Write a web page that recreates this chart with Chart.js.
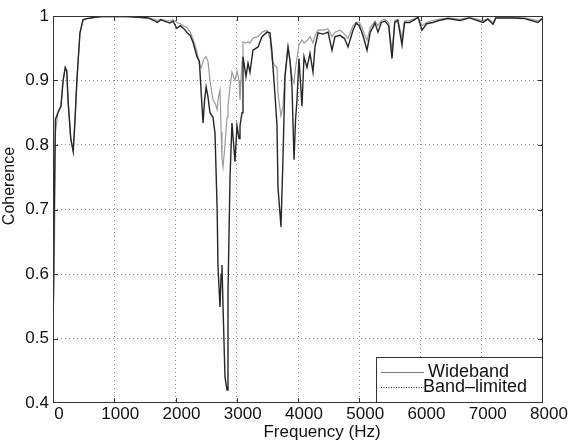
<!DOCTYPE html>
<html>
<head>
<meta charset="utf-8">
<script src="https://cdn.jsdelivr.net/npm/chart.js@4/dist/chart.umd.min.js"></script>
<style>
html,body{margin:0;padding:0;background:#fff;}
canvas{display:block;}
</style>
</head>
<body>
<canvas id="c" width="571" height="442"></canvas>
<script>
// ---- data ----
const freq = [0,20,40,80,130,165,200,225,245,290,330,360,390,440,490,550,690,800,1000,1200,1400,1550,1650,1700,1760,1850,1910,1960,2020,2080,2140,2190,2240,2290,2350,2390,2420,2450,2475,2500,2530,2563,2612,2645,2680,2694,2727,2745,2759,2776,2808,2841,2857,2890,2922,2950,2971,3004,3037,3053,3086,3102,3151,3184,3216,3265,3347,3412,3494,3543,3575,3592,3630,3657,3673,3722,3755,3788,3837,3870,3902,3935,3960,3984,4016,4065,4098,4147,4196,4245,4278,4327,4408,4490,4555,4604,4686,4760,4816,4898,4950,5000,5045,5090,5127,5180,5257,5306,5360,5420,5480,5535,5580,5630,5698,5740,5820,5900,5960,6024,6100,6200,6300,6450,6645,6800,7020,7100,7184,7230,7500,7700,7920,8000];
const wideband = [0.50,0.70,0.84,0.85,0.86,0.90,0.92,0.915,0.87,0.81,0.79,0.84,0.90,0.974,0.994,0.996,0.998,0.999,0.999,0.999,0.998,0.997,0.993,0.99,0.994,0.991,0.989,0.992,0.981,0.985,0.98,0.974,0.97,0.958,0.937,0.93,0.88,0.834,0.87,0.89,0.875,0.85,0.843,0.818,0.70,0.61,0.549,0.60,0.614,0.55,0.44,0.42,0.57,0.75,0.834,0.80,0.774,0.83,0.81,0.83,0.85,0.937,0.906,0.927,0.913,0.947,0.952,0.968,0.975,0.974,0.945,0.92,0.87,0.83,0.735,0.673,0.78,0.906,0.952,0.93,0.89,0.777,0.84,0.87,0.934,0.86,0.937,0.92,0.942,0.913,0.952,0.974,0.972,0.975,0.947,0.968,0.97,0.965,0.952,0.978,0.989,0.985,0.974,0.96,0.947,0.975,0.989,0.975,0.99,0.992,0.985,0.934,0.99,0.993,0.955,0.99,0.99,0.994,0.998,0.978,0.988,0.99,0.993,0.996,0.993,0.997,0.99,0.995,0.987,0.997,0.997,0.996,0.99,0.997];
const bandLimited = [0.52,0.60,0.82,0.85,0.86,0.90,0.92,0.915,0.87,0.81,0.79,0.84,0.90,0.974,0.994,0.996,0.998,0.999,0.999,0.999,0.998,0.997,0.995,0.993,0.995,0.993,0.992,0.994,0.99,0.988,0.984,0.982,0.975,0.963,0.945,0.925,0.92,0.93,0.935,0.937,0.93,0.90,0.87,0.865,0.855,0.87,0.885,0.82,0.78,0.766,0.80,0.843,0.86,0.89,0.913,0.905,0.90,0.915,0.90,0.87,0.93,0.96,0.958,0.96,0.958,0.966,0.968,0.975,0.978,0.965,0.932,0.928,0.922,0.92,0.88,0.845,0.86,0.91,0.952,0.93,0.905,0.896,0.92,0.935,0.955,0.963,0.958,0.962,0.968,0.958,0.97,0.978,0.978,0.98,0.968,0.975,0.978,0.972,0.965,0.985,0.99,0.99,0.982,0.97,0.962,0.982,0.992,0.985,0.993,0.995,0.99,0.945,0.993,0.995,0.965,0.992,0.993,0.996,0.998,0.985,0.99,0.993,0.995,0.997,0.995,0.998,0.993,0.996,0.99,0.998,0.998,0.997,0.993,0.997];
const xTickLabels = ["0","1000","2000","3000","4000","5000","6000","7000","8000"];
const yTickLabels = ["0.4","0.5","0.6","0.7","0.8","0.9","1"];
const seriesNames = ["Wideband","Band\u2013limited"];

const FONT = "'Liberation Sans', Arial, Helvetica, sans-serif";

const toPts = ys => freq.map((f,i)=>({x:f,y:ys[i]}));

const framePlugin = {
  id:'frame',
  afterDraw(chart){
    const {ctx, chartArea:a, scales} = chart;
    ctx.save();
    ctx.strokeStyle = '#333';
    ctx.lineWidth = 1;
    ctx.strokeRect(a.left+0.5, a.top+0.5, a.right-a.left-1, a.bottom-a.top-1);
    // inward ticks
    const tl = 5;
    ctx.beginPath();
    for(let v=1000; v<8000; v+=1000){
      const px = Math.round(scales.x.getPixelForValue(v))+0.5;
      ctx.moveTo(px,a.bottom); ctx.lineTo(px,a.bottom-tl);
      ctx.moveTo(px,a.top); ctx.lineTo(px,a.top+tl);
    }
    for(let i=1;i<yTickLabels.length-1;i++){
      const py = Math.round(scales.y.getPixelForValue(parseFloat(yTickLabels[i])))+0.5;
      ctx.moveTo(a.left,py); ctx.lineTo(a.left+tl,py);
      ctx.moveTo(a.right,py); ctx.lineTo(a.right-tl,py);
    }
    ctx.stroke();

    // axis titles
    ctx.fillStyle = '#111';
    ctx.font = '17px ' + FONT;
    ctx.textAlign = 'center';
    ctx.textBaseline = 'middle';
    ctx.fillText('Frequency (Hz)', 322, 432);
    ctx.save();
    ctx.translate(10, 186);
    ctx.rotate(-Math.PI/2);
    ctx.font = '16px ' + FONT;
    ctx.fillText('Coherence', 0, 0);
    ctx.restore();

    // legend box
    const lx = 376, ly = 357, lw = a.right - lx, lh = a.bottom - ly;
    ctx.fillStyle = '#fff';
    ctx.fillRect(lx, ly, lw, lh);
    ctx.strokeStyle = '#333';
    ctx.strokeRect(lx+0.5, ly+0.5, lw-1, lh-1);
    ctx.lineWidth = 1;
    ctx.beginPath();
    ctx.strokeStyle = '#777';
    ctx.moveTo(381, 372.5); ctx.lineTo(424, 372.5);
    ctx.stroke();
    ctx.beginPath();
    ctx.strokeStyle = '#222';
    ctx.setLineDash([1,1.5]);
    ctx.moveTo(381, 387.5); ctx.lineTo(424, 387.5);
    ctx.stroke();
    ctx.setLineDash([]);
    ctx.fillStyle = '#111';
    ctx.textAlign = 'left';
    ctx.font = '18px ' + FONT;
    ctx.fillText(seriesNames[0], 428, 372);
    ctx.fillText(seriesNames[1], 423, 387);
    ctx.restore();
  }
};

new Chart(document.getElementById('c'), {
  type:'line',
  data:{
    datasets:[
      {label:seriesNames[0], data:toPts(wideband), borderColor:'#262626', borderWidth:1.4, pointRadius:0, tension:0, fill:false},
      {label:seriesNames[1], data:toPts(bandLimited), borderColor:'#9a9a9a', borderWidth:1.2, pointRadius:0, tension:0, fill:false}
    ]
  },
  options:{
    responsive:false,
    animation:false,
    devicePixelRatio:1,
    layout:{padding:{top:16,right:28,left:0,bottom:0}},
    plugins:{legend:{display:false}, tooltip:{enabled:false}},
    scales:{
      x:{
        type:'linear', min:0, max:8000,
        afterBuildTicks(s){ s.ticks = xTickLabels.map(t=>({value:parseFloat(t)})); },
        afterFit(s){ s.height = 39; },
        ticks:{ callback:(v)=>xTickLabels[Math.round(v/1000)], color:'#111', font:{family:FONT,size:17}, padding:1, labelOffset:6, maxRotation:0, autoSkip:false },
        grid:{ drawTicks:false, color:(c)=> (c.tick && (c.tick.value===0||c.tick.value===8000)) ? 'rgba(0,0,0,0)' : '#8a8a8a', lineWidth:1 },
        border:{ display:false, dash:[1,3] }
      },
      y:{
        type:'linear', min:0.4, max:1,
        afterBuildTicks(s){ s.ticks = yTickLabels.map(t=>({value:parseFloat(t)})); },
        afterFit(s){ s.width = 53; },
        ticks:{ callback:(v)=>{ const i = yTickLabels.findIndex(t=>Math.abs(parseFloat(t)-v)<1e-6); return i>=0?yTickLabels[i]:''; }, color:'#111', font:{family:FONT,size:17}, padding:4, autoSkip:false },
        grid:{ drawTicks:false, color:(c)=> (c.tick && (Math.abs(c.tick.value-0.4)<1e-6||Math.abs(c.tick.value-1)<1e-6)) ? 'rgba(0,0,0,0)' : '#8a8a8a', lineWidth:1 },
        border:{ display:false, dash:[1,3] }
      }
    }
  },
  plugins:[framePlugin]
});
</script>
</body>
</html>
